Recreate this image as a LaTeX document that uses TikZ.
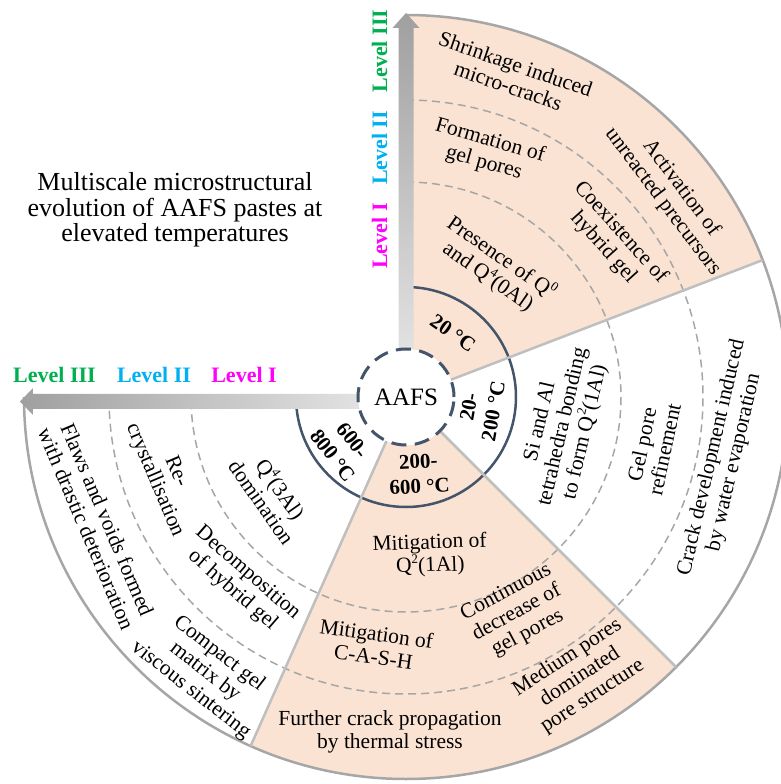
\documentclass[tikz,border=0pt]{standalone}
\usepackage{fontspec}
\setmainfont{Liberation Serif}
\definecolor{peach}{HTML}{FAE3D3}
\definecolor{ringblue}{HTML}{44546A}
\definecolor{lgreen}{HTML}{00B050}
\definecolor{lcyan}{HTML}{00B0F0}
\definecolor{lmag}{HTML}{FF00FF}
\definecolor{sepgray}{HTML}{BFBFBF}
\definecolor{dashgray}{HTML}{A6A6A6}
\newcommand\sups[1]{\raisebox{0.42em}{\fontsize{13}{13}\selectfont #1}}
\begin{document}
\begin{tikzpicture}[x=1pt,y=1pt,
  txt/.style={align=center,font=\fontsize{21.5}{23}\selectfont,inner sep=0pt},
  temp/.style={align=center,font=\fontsize{21}{25}\selectfont\bfseries,inner sep=0pt},
  lvl/.style={font=\fontsize{22}{24}\selectfont\bfseries,inner sep=0pt,anchor=base},
  sepline/.style={draw=sepgray,line width=2.5pt},
  lvlarc/.style={draw=dashgray,line width=1.5pt,dash pattern=on 8pt off 5pt}]
\useasboundingbox (-406,-387) rectangle (375,397);
% shaded sectors
\fill[peach] (21:48) -- (21:382) arc[start angle=21,end angle=90,radius=382] -- (90:48) arc[start angle=90,end angle=21,radius=48] -- cycle;
\fill[peach] (-114:48) -- (-114:382) arc[start angle=-114,end angle=-45,radius=382] -- (-45:48) arc[start angle=-45,end angle=-114,radius=48] -- cycle;
% level boundaries
\draw[lvlarc] (90:215) arc[start angle=90,end angle=-180,radius=215];
\draw[lvlarc] (90:297) arc[start angle=90,end angle=-180,radius=297];
% temperature ring
\draw[ringblue,line width=2.5pt] (90:110) arc[start angle=90,end angle=-180,radius=110];
% outer arc
\draw[dashgray,line width=2.5pt] (90:382) arc[start angle=90,end angle=-180,radius=382];
% sector separators
\draw[sepline] (21:48) -- (21:382);
\draw[sepline] (-45:48) -- (-45:382);
\draw[sepline] (-114:48) -- (-114:382);
% arrows
\shade[top color=gray!75,bottom color=gray!22] (-7.5,40) -- (-7.5,369) -- (-13.5,369) -- (0,384) -- (13.5,369) -- (7.5,369) -- (7.5,40) -- cycle;
\shade[left color=gray!75,right color=gray!22] (-40,3) -- (-373,3) -- (-373,9) -- (-386,-4.5) -- (-373,-18) -- (-373,-12) -- (-40,-12) -- cycle;
% centre
\node[circle,draw=ringblue,line width=3pt,dash pattern=on 15pt off 8.5pt,minimum size=96pt,fill=white,inner sep=0pt,font=\fontsize{25}{25}\selectfont] (aafs) at (0,0) {AAFS};
% title
\node[align=center,font=\fontsize{26}{25.5}\selectfont,inner sep=0pt] (title) at (-231,187) {Multiscale microstructural\\evolution of AAFS pastes at\\elevated temperatures};
% level labels
\node[lvl,text=lgreen,rotate=90] (v3) at (-19,346) {Level III};
\node[lvl,text=lcyan,rotate=90] (v2) at (-19,249) {Level II};
\node[lvl,text=lmag,rotate=90] (v1) at (-19,161) {Level I};
\node[lvl,text=lgreen] (h3) at (-351.5,14) {Level III};
\node[lvl,text=lcyan] (h2) at (-252,14) {Level II};
\node[lvl,text=lmag] (h1) at (-162,14) {Level I};
% temperatures
\node[temp,rotate=-35] (T1) at (47,64) {20 °C};
\node[temp,rotate=80] (T2) at (75,-12) {20-\\200 °C};
\node[temp,rotate=3] (T3) at (13,-77) {200-\\600 °C};
\node[temp,rotate=-52] (T4) at (-63,-51) {600-\\800 °C};
% level I
\node[txt,rotate=-35] (a1) at (89,130) {Presence of Q\sups{0}\\and Q\sups{4}(0Al)};
\node[txt,rotate=77] (b1) at (157,-30) {Si and Al\\tetrahedra bonding\\to form Q\sups{2}(1Al)};
\node[txt,rotate=2] (c1) at (24,-158) {Mitigation of\\Q\sups{2}(1Al)};
\node[txt,rotate=-55] (d1) at (-134,-98) {Q\sups{4}(3Al)\\domination};
% level II
\node[txt,rotate=-16] (a2) at (81,245) {Formation of\\gel pores};
\node[txt,rotate=-48] (a2b) at (206,157) {Coexistence of\\hybrid gel};
\node[txt,rotate=78] (b2) at (247,-50) {Gel pore\\refinement};
\node[txt,rotate=-8] (c2) at (-31,-248) {Mitigation of\\C-A-S-H};
\node[txt,rotate=28] (c2b) at (111,-216) {Continuous\\decrease of\\gel pores};
\node[txt,rotate=-41] (d2) at (-166,-185) {Decomposition\\of hybrid gel};
\node[txt,rotate=-67] (d2b) at (-241,-79) {Re-\\crystallisation};
% level III
\node[txt,rotate=-19] (a3) at (106,322) {Shrinkage induced\\micro-cracks};
\node[txt,rotate=-53] (a3b) at (266,202) {Activation of\\unreacted precursors};
\node[txt,rotate=77] (b3) at (317,-63) {Crack development induced\\by water evaporation};
\node[txt] (c3) at (-16,-335) {Further crack propagation\\by thermal stress};
\node[txt,rotate=33] (c3b) at (174,-280) {Medium pores\\dominated\\pore structure};
\node[txt,rotate=-38] (d3) at (-201,-275) {Compact gel\\matrix by\\viscous sintering};
\node[txt,rotate=-67] (d3b) at (-309,-127) {Flaws and voids formed\\with drastic deterioration};
\end{tikzpicture}
\end{document}
